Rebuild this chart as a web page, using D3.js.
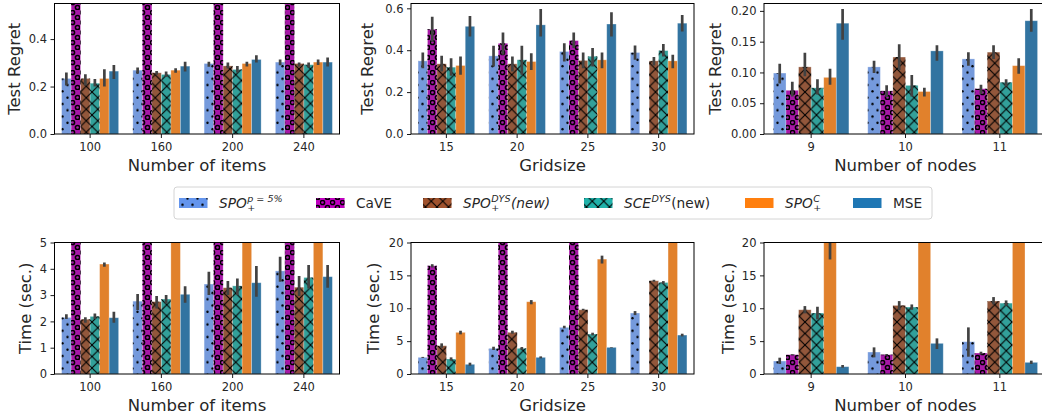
<!DOCTYPE html>
<html>
<head>
<meta charset="utf-8">
<script src="https://cdn.jsdelivr.net/npm/d3@7"></script>
<style>
  body { margin: 0; background: #fff; }
  svg { display: block; font-family: "DejaVu Sans", sans-serif; }
</style>
</head>
<body>
<svg class="grafico" width="1042" height="417"></svg>
<script>
// categorias de cada eixo x
const ITEMS = ['100', '160', '200', '240'];
const GRIDS = ['15', '20', '25', '30'];
const NODES = ['9', '10', '11'];

// séries, na ordem das barras: SPO+ p=5%, CaVE, SPO+ DYS, SCE DYS, SPO+ C, MSE
const SERIES = ['spo5', 'cave', 'spodys', 'scedys', 'spoc', 'mse'];

// test regret: uma linha por categoria, uma coluna por série (null = sem barra)
const regretItems   = [[0.234, 0.90, 0.234, 0.214, 0.234, 0.265], [0.269, 0.90, 0.258, 0.251, 0.269, 0.286], [0.297, 0.90, 0.287, 0.272, 0.297, 0.314], [0.303, 0.90, 0.297, 0.292, 0.303, 0.303]];
const regretItemsLo = [[0.204, 0.85, 0.204, 0.200, 0.200, 0.232], [0.255, 0.85, 0.250, 0.241, 0.258, 0.263], [0.283, 0.85, 0.276, 0.259, 0.284, 0.301], [0.290, 0.85, 0.283, 0.280, 0.291, 0.284]];
const regretItemsHi = [[0.259, 0.95, 0.252, 0.232, 0.273, 0.291], [0.280, 0.95, 0.266, 0.263, 0.277, 0.305], [0.305, 0.95, 0.301, 0.287, 0.305, 0.332], [0.314, 0.95, 0.301, 0.301, 0.314, 0.322]];

const regretGrid   = [[0.349, 0.500, 0.335, 0.319, 0.327, 0.514], [0.373, 0.433, 0.335, 0.354, 0.346, 0.521], [0.394, 0.446, 0.351, 0.371, 0.354, 0.525], [0.389, null, 0.349, 0.398, 0.349, 0.529]];
const regretGridLo = [[0.314, 0.441, 0.298, 0.278, 0.283, 0.465], [0.322, 0.378, 0.298, 0.283, 0.306, 0.465], [0.346, 0.410, 0.314, 0.322, 0.314, 0.465], [0.354, null, 0.327, 0.370, 0.314, 0.489]];
const regretGridHi = [[0.389, 0.560, 0.373, 0.362, 0.370, 0.563], [0.421, 0.484, 0.370, 0.421, 0.386, 0.597], [0.433, 0.484, 0.389, 0.410, 0.389, 0.581], [0.422, null, 0.367, 0.430, 0.378, 0.568]];

const regretNodes   = [[0.099, 0.071, 0.109, 0.075, 0.092, 0.180], [0.109, 0.070, 0.125, 0.079, 0.069, 0.135], [0.122, 0.0735, 0.133, 0.084, 0.111, 0.184]];
const regretNodesLo = [[0.082, 0.061, 0.094, 0.064, 0.080, 0.153], [0.099, 0.060, 0.104, 0.061, 0.061, 0.119], [0.111, 0.065, 0.122, 0.077, 0.098, 0.166]];
const regretNodesHi = [[0.114, 0.085, 0.132, 0.089, 0.106, 0.203], [0.119, 0.079, 0.146, 0.096, 0.075, 0.144], [0.133, 0.080, 0.144, 0.089, 0.123, 0.203]];

// tempo (seg.)
const timeItems   = [[2.15, 12, 2.08, 2.19, 4.18, 2.14], [2.77, 14, 2.75, 2.85, 6.5, 3.03], [3.42, 16, 3.28, 3.35, 8, 3.47], [3.92, 18, 3.30, 3.67, 10, 3.70]];
const timeItemsLo = [[2.09, 11, 1.95, 2.09, 4.08, 1.95], [2.43, 13, 2.49, 2.68, 6, 2.71], [3.00, 15, 3.00, 3.00, 7.5, 2.94], [3.51, 17, 2.97, 3.25, 9.5, 3.28]];
const timeItemsHi = [[2.27, 13, 2.16, 2.30, 4.24, 2.37], [3.04, 15, 2.97, 3.00, 7, 3.34], [3.89, 17, 3.54, 3.63, 8.5, 4.11], [4.46, 19, 3.73, 4.14, 10.5, 4.14]];

const timeGrid   = [[2.53, 16.46, 4.30, 2.28, 6.33, 1.47], [3.90, 30, 6.33, 3.90, 10.99, 2.53], [7.09, 45, 9.77, 6.08, 17.47, 4.05], [9.27, null, 14.18, 13.92, 25, 5.92]];
const timeGridLo = [[2.45, 16.2, 3.99, 2.03, 6.03, 1.27], [3.65, 29, 6.13, 3.70, 10.6, 2.38], [6.94, 44, 9.67, 5.87, 16.8, 4.0], [8.96, null, 14.03, 13.72, 24, 5.72]];
const timeGridHi = [[2.60, 16.7, 4.66, 2.53, 6.58, 1.72], [4.15, 31, 6.58, 4.10, 11.24, 2.68], [7.34, 46, 9.92, 6.28, 18.0, 4.1], [9.57, null, 14.33, 14.13, 26, 6.13]];

const timeNodes   = [[1.97, 2.94, 9.77, 9.27, 21, 1.11], [3.34, 2.94, 10.43, 10.18, 30, 4.66], [4.91, 3.19, 11.09, 10.78, 40, 1.77]];
const timeNodesLo = [[1.52, 2.85, 9.22, 8.30, 17.42, 0.96], [2.53, 2.80, 9.72, 9.77, 29, 3.80], [2.63, 2.99, 10.58, 10.38, 39, 1.52]];
const timeNodesHi = [[2.48, 3.00, 10.33, 10.23, 24.6, 1.37], [4.05, 3.04, 11.09, 10.58, 31, 5.42], [7.09, 3.39, 11.70, 11.19, 41, 2.03]];

// ticks do eixo y
const TICKS_REGRET_ITEMS = [0, 0.2, 0.4];
const TICKS_REGRET_GRID  = [0, 0.2, 0.4, 0.6];
const TICKS_REGRET_NODES = [0, 0.05, 0.10, 0.15, 0.20];
const TICKS_TIME_ITEMS   = [0, 1, 2, 3, 4, 5];
const TICKS_TIME_20      = [0, 5, 10, 15, 20];

// legenda
const LEGEND_MAIN = ['SPO', 'CaVE', 'SPO', 'SCE', 'SPO', 'MSE'];
const LEGEND_SUP  = ['p = 5%', '', 'DYS', 'DYS', 'C', ''];
const LEGEND_SUB  = ['+', '', '+', '', '+', ''];
const LEGEND_TAIL = ['', '', '(new)', '(new)', '', ''];

// CAPS : constantes de estilo
const COLORS  = { spo5: '#759adc', cave: '#a718a7', spodys: '#92573b', scedys: '#32a09a', spoc: '#e1812c', mse: '#3274a1' };
const LEGEND_COLORS = { spo5: '#6495ed', cave: '#bf00bf', spodys: '#a0522d', scedys: '#20b2aa', spoc: '#ff7f0e', mse: '#1f77b4' };
const HATCH   = { spo5: 'dots', cave: 'rings', spodys: 'cross', scedys: 'cross', spoc: null, mse: null };
const ITALIC_MAIN = [true, false, true, true, true, false];
const ITALIC_TAIL = [false, false, true, false, false, false];
const TICK_FONT = 11.5;
const LABEL_FONT = 16.5;
const LEGEND_FONT = 13.7;

const $svg = d3.select('.grafico');
const $defs = $svg.append('defs');

// padrões de hachura (só as marcas pretas, o fundo é a própria barra)
const $dots = $defs.append('pattern').attr('id', 'dots').attr('patternUnits', 'userSpaceOnUse')
  .attr('width', 10).attr('height', 12.6);
$dots.append('circle').attr('cx', 2.5).attr('cy', 3.15).attr('r', 1.2).attr('fill', '#000');
$dots.append('circle').attr('cx', 7.5).attr('cy', 9.45).attr('r', 1.2).attr('fill', '#000');

const $rings = $defs.append('pattern').attr('id', 'rings').attr('patternUnits', 'userSpaceOnUse')
  .attr('width', 10).attr('height', 10);
[[2.5, 2.5], [7.5, 7.5]].forEach(c => {
  $rings.append('circle').attr('cx', c[0]).attr('cy', c[1]).attr('r', 2.1)
    .attr('fill', 'none').attr('stroke', '#000').attr('stroke-width', 1.5);
});

const CROSS = 11.5;
$defs.append('pattern').attr('id', 'cross').attr('patternUnits', 'userSpaceOnUse')
  .attr('width', CROSS).attr('height', CROSS)
  .append('path')
  .attr('d', `M-1,-1L${CROSS + 1},${CROSS + 1}M${CROSS + 1},-1L-1,${CROSS + 1}`)
  .attr('stroke', '#000').attr('stroke-width', 1.1).attr('fill', 'none');

// os seis painéis: dados + caixa do gráfico
const PANELS = [
  { cats: ITEMS, mean: regretItems, lo: regretItemsLo, hi: regretItemsHi, ymax: 0.55, ticks: TICKS_REGRET_ITEMS, fmt: '.1f',
    left: 54.5, right: 339.5, top: 3.5, bottom: 134, ylab: 'Test Regret', ylabX: 19.5, xlab: 'Number of items' },
  { cats: GRIDS, mean: regretGrid, lo: regretGridLo, hi: regretGridHi, ymax: 0.623, ticks: TICKS_REGRET_GRID, fmt: '.1f',
    left: 411, right: 694, top: 3.5, bottom: 134, ylab: 'Test Regret', ylabX: 373, xlab: 'Gridsize' },
  { cats: NODES, mean: regretNodes, lo: regretNodesLo, hi: regretNodesHi, ymax: 0.212, ticks: TICKS_REGRET_NODES, fmt: '.2f',
    left: 764, right: 1047, top: 3.5, bottom: 134, ylab: 'Test Regret', ylabX: 721, xlab: 'Number of nodes' },
  { cats: ITEMS, mean: timeItems, lo: timeItemsLo, hi: timeItemsHi, ymax: 5, ticks: TICKS_TIME_ITEMS, fmt: 'd',
    left: 54.5, right: 339.5, top: 242.5, bottom: 374, ylab: 'Time (sec.)', ylabX: 30.5, xlab: 'Number of items' },
  { cats: GRIDS, mean: timeGrid, lo: timeGridLo, hi: timeGridHi, ymax: 20, ticks: TICKS_TIME_20, fmt: 'd',
    left: 411, right: 694, top: 242.5, bottom: 374, ylab: 'Time (sec.)', ylabX: 379, xlab: 'Gridsize' },
  { cats: NODES, mean: timeNodes, lo: timeNodesLo, hi: timeNodesHi, ymax: 20, ticks: TICKS_TIME_20, fmt: 'd',
    left: 764, right: 1047, top: 242.5, bottom: 374, ylab: 'Time (sec.)', ylabX: 734, xlab: 'Number of nodes' }
];

function styleAxis($ax) {
  $ax.attr('font-size', null).attr('font-family', null);
  $ax.select('.domain').remove();
  $ax.selectAll('line').attr('stroke', '#000').attr('stroke-width', 0.9);
  $ax.selectAll('text').attr('fill', '#262626').style('font-size', TICK_FONT + 'px');
}

function drawPanel(p, k) {
  const $g = $svg.append('g');

  const x0 = d3.scaleBand().domain(p.cats).range([p.left, p.right]).paddingInner(0.2).paddingOuter(0.1);
  const x1 = d3.scaleBand().domain(SERIES).range([0, x0.bandwidth()]);
  const y  = d3.scaleLinear().domain([0, p.ymax]).range([p.bottom, p.top]);

  const clipId = 'clip' + k;
  $defs.append('clipPath').attr('id', clipId).append('rect')
    .attr('x', p.left).attr('y', p.top).attr('width', p.right - p.left).attr('height', p.bottom - p.top);

  const data = p.cats.flatMap((c, i) => SERIES.map((s, j) => ({
    c, s, v: p.mean[i][j], lo: p.lo[i][j], hi: p.hi[i][j]
  }))).filter(d => d.v != null);

  const $plot = $g.append('g').attr('clip-path', `url(#${clipId})`);

  const bx = d => x0(d.c) + x1(d.s);
  const by = d => y(d.v);
  const bh = d => y(0) - y(d.v);

  $plot.selectAll('rect.bar').data(data).enter().append('rect')
    .attr('class', 'bar')
    .attr('x', bx).attr('y', by)
    .attr('width', x1.bandwidth()).attr('height', bh)
    .attr('fill', d => COLORS[d.s])
    .attr('stroke', '#fff').attr('stroke-opacity', 0.35).attr('stroke-width', 0.8);

  $plot.selectAll('rect.hatch').data(data.filter(d => HATCH[d.s])).enter().append('rect')
    .attr('class', 'hatch')
    .attr('x', bx).attr('y', by)
    .attr('width', x1.bandwidth()).attr('height', bh)
    .attr('fill', d => `url(#${HATCH[d.s]})`);

  $plot.selectAll('line.err').data(data).enter().append('line')
    .attr('class', 'err')
    .attr('x1', d => bx(d) + x1.bandwidth() / 2)
    .attr('x2', d => bx(d) + x1.bandwidth() / 2)
    .attr('y1', d => y(d.lo)).attr('y2', d => y(d.hi))
    .attr('stroke', '#424242').attr('stroke-width', 2.7);

  // eixos
  const $ay = $g.append('g').attr('transform', `translate(${p.left},0)`)
    .call(d3.axisLeft(y).tickValues(p.ticks).tickFormat(d3.format(p.fmt)).tickSize(4).tickPadding(3.5));
  styleAxis($ay);

  const $ax = $g.append('g').attr('transform', `translate(0,${p.bottom})`)
    .call(d3.axisBottom(x0).tickSize(4).tickPadding(5));
  styleAxis($ax);

  $g.append('rect')
    .attr('x', p.left).attr('y', p.top)
    .attr('width', p.right - p.left).attr('height', p.bottom - p.top)
    .attr('fill', 'none').attr('stroke', '#000').attr('stroke-width', 1);

  // rótulos dos eixos
  $g.append('text')
    .attr('transform', `translate(${p.ylabX},${(p.top + p.bottom) / 2}) rotate(-90)`)
    .attr('text-anchor', 'middle')
    .attr('fill', '#262626')
    .style('font-size', LABEL_FONT + 'px')
    .text(p.ylab);

  $g.append('text')
    .attr('x', (p.left + p.right) / 2)
    .attr('y', p.bottom + 36.5)
    .attr('text-anchor', 'middle')
    .attr('fill', '#262626')
    .style('font-size', LABEL_FONT + 'px')
    .text(p.xlab);
}

PANELS.forEach(drawPanel);

// legenda
const LEGEND_X = [179, 316, 423, 584, 745, 853];
const LEGEND_BASE = 208;

const $leg = $svg.append('g');
$leg.append('rect')
  .attr('x', 174).attr('y', 187).attr('width', 758).attr('height', 32).attr('rx', 3)
  .attr('fill', '#fff').attr('stroke', '#d4d4d4').attr('stroke-width', 1);

SERIES.forEach((s, i) => {
  const px = LEGEND_X[i];
  $leg.append('rect').attr('x', px).attr('y', 198).attr('width', 28.5).attr('height', 10)
    .attr('fill', LEGEND_COLORS[s]);
  if (HATCH[s]) {
    $leg.append('rect').attr('x', px).attr('y', 198).attr('width', 28.5).attr('height', 10)
      .attr('fill', `url(#${HATCH[s]})`);
  }

  let tx = px + 40;
  const $main = $leg.append('text')
    .attr('x', tx).attr('y', LEGEND_BASE)
    .attr('fill', '#262626')
    .style('font-size', LEGEND_FONT + 'px')
    .style('font-style', ITALIC_MAIN[i] ? 'italic' : 'normal')
    .text(LEGEND_MAIN[i]);
  tx += $main.node().getComputedTextLength() + 0.5;

  let extra = 0;
  if (LEGEND_SUP[i]) {
    const $sup = $leg.append('text')
      .attr('x', tx).attr('y', LEGEND_BASE - 6.5)
      .attr('fill', '#262626')
      .style('font-size', (LEGEND_FONT * 0.7) + 'px')
      .style('font-style', 'italic')
      .text(LEGEND_SUP[i]);
    extra = Math.max(extra, $sup.node().getComputedTextLength());
  }
  if (LEGEND_SUB[i]) {
    const $sub = $leg.append('text')
      .attr('x', tx).attr('y', LEGEND_BASE + 2.6)
      .attr('fill', '#262626')
      .style('font-size', (LEGEND_FONT * 0.7) + 'px')
      .text(LEGEND_SUB[i]);
    extra = Math.max(extra, $sub.node().getComputedTextLength());
  }
  tx += extra + 0.5;

  if (LEGEND_TAIL[i]) {
    $leg.append('text')
      .attr('x', tx).attr('y', LEGEND_BASE)
      .attr('fill', '#262626')
      .style('font-size', LEGEND_FONT + 'px')
      .style('font-style', ITALIC_TAIL[i] ? 'italic' : 'normal')
      .text(LEGEND_TAIL[i]);
  }
});
</script>
</body>
</html>
